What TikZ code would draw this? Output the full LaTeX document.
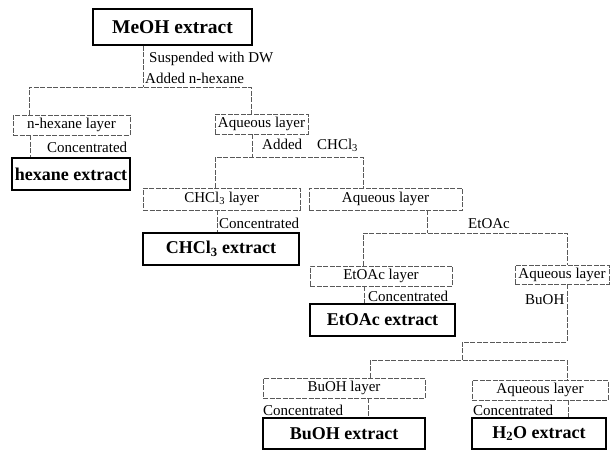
\documentclass[tikz,border=0pt]{standalone}
\usepackage{fontspec}
\setmainfont{Liberation Serif}

\tikzset{
  layerbox/.style={draw=black!65, dash pattern=on 5pt off 1.5pt, line width=0.6pt, inner sep=0pt, font=\fontsize{15}{16}\selectfont},
  extractbox/.style={draw, line width=1.3pt, inner sep=0pt, font=\bfseries\fontsize{18}{20}\selectfont},
  link/.style={draw=black!65, dash pattern=on 5pt off 1.5pt, line width=0.6pt},
  note/.style={anchor=west, inner sep=0pt, font=\fontsize{15}{16}\selectfont}
}

\begin{document}
\begin{tikzpicture}[x=1pt, y=-1pt]
    \useasboundingbox (0,0) rectangle (610,451);

    % boxes
    \node[extractbox, minimum width=159, minimum height=36, font=\bfseries\fontsize{19.5}{21}\selectfont] (meoh) at (172.5,27) {MeOH extract};
    \node[layerbox, minimum width=117, minimum height=20] (hexl) at (71.5,125) {n-hexane layer};
    \node[layerbox, minimum width=93, minimum height=20] (aq1) at (261.5,124) {Aqueous layer};
    \node[extractbox, minimum width=118, minimum height=32] (hexe) at (71,174) {hexane extract};
    \node[layerbox, minimum width=157, minimum height=22] (chl) at (221.5,199) {CHCl\textsubscript{3} layer};
    \node[layerbox, minimum width=153, minimum height=22] (aq2) at (385.5,199) {Aqueous layer};
    \node[extractbox, minimum width=156, minimum height=32] (chle) at (221,249) {CHCl\textsubscript{3} extract};
    \node[layerbox, minimum width=142, minimum height=20] (etl) at (381,276) {EtOAc layer};
    \node[layerbox, minimum width=94, minimum height=19] (aq3) at (562,274.5) {Aqueous layer};
    \node[extractbox, minimum width=145, minimum height=32] (ete) at (382.5,320) {EtOAc extract};
    \node[layerbox, minimum width=162, minimum height=20] (bul) at (344,388) {BuOH layer};
    \node[layerbox, minimum width=136, minimum height=20] (aq4) at (540,390) {Aqueous layer};
    \node[extractbox, minimum width=162, minimum height=31] (bue) at (344,433.5) {BuOH extract};
    \node[extractbox, minimum width=134, minimum height=31] (h2oe) at (539,433.5) {H\textsubscript{2}O extract};

    % labels
    \node[note] (l1) at (149,59) {Suspended with DW};
    \node[note] (l2) at (145,78) {Added n-hexane};
    \node[note] (l3) at (47,147) {Concentrated};
    \node[note] (l4) at (262,145) {Added\quad{}CHCl\textsubscript{3}};
    \node[note] (l5) at (219,223) {Concentrated};
    \node[note] (l6) at (468,224) {EtOAc};
    \node[note] (l7) at (368,296) {Concentrated};
    \node[note] (l8) at (525,300) {BuOH};
    \node[note] (l9) at (263,410) {Concentrated};
    \node[note] (l10) at (473,410) {Concentrated};

    % junctions
    \coordinate (s1) at (143,87);
    \coordinate (s1l) at (29,87);
    \coordinate (s1r) at (251,87);
    \coordinate (c1) at (30,140);
    \coordinate (s2) at (252,157);
    \coordinate (s2l) at (215,157);
    \coordinate (s2r) at (363,157);
    \coordinate (c2) at (217,220);
    \coordinate (s3) at (427,233);
    \coordinate (s3l) at (363,233);
    \coordinate (s3r) at (567,233);
    \coordinate (c3) at (364,295);
    \coordinate (k4) at (567,342);
    \coordinate (s4) at (462,360);
    \coordinate (s4l) at (370,360);
    \coordinate (s4r) at (567,360);
    \coordinate (c4) at (368,408);
    \coordinate (c5) at (568,408);

    % connectors
    \draw[link] (meoh.south -| s1) -- (s1);
    \draw[link] (hexl.north -| s1l) |- (s1r) -- (aq1.north -| s1r);
    \draw[link] (hexl.south -| c1) -- (hexe.north -| c1);
    \draw[link] (aq1.south -| s2) -- (s2);
    \draw[link] (chl.north -| s2l) |- (s2r) -- (aq2.north -| s2r);
    \draw[link] (chl.south -| c2) -- (chle.north -| c2);
    \draw[link] (aq2.south -| s3) -- (s3);
    \draw[link] (etl.north -| s3l) |- (s3r) -- (aq3.north -| s3r);
    \draw[link] (etl.south -| c3) -- (ete.north -| c3);
    \draw[link] (aq3.south -| k4) -- (k4) -| (s4);
    \draw[link] (bul.north -| s4l) |- (s4r) -- (aq4.north -| s4r);
    \draw[link] (bul.south -| c4) -- (bue.north -| c4);
    \draw[link] (aq4.south -| c5) -- (h2oe.north -| c5);
\end{tikzpicture}
\end{document}
